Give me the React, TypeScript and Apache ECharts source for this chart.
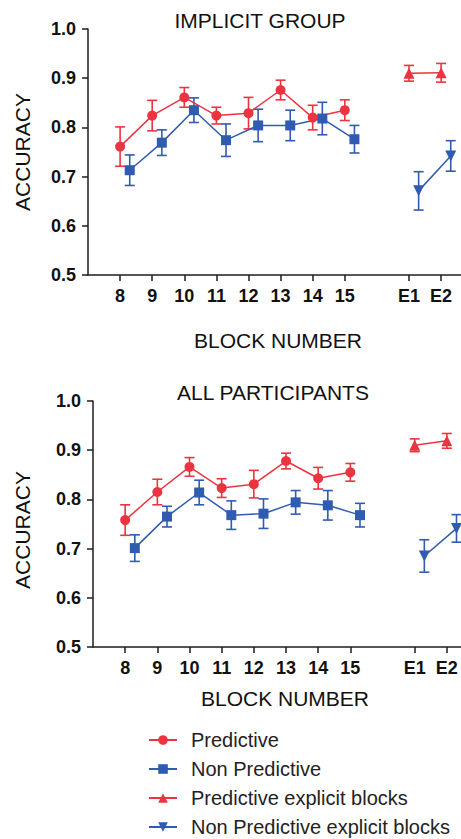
import React, { useEffect, useRef } from "react";
import * as echarts from "echarts";

// ---- data ----
const blocks = [8, 9, 10, 11, 12, 13, 14, 15];
const explicitLabels = ["E1", "E2"];
const explicitPos = [17, 18];
const yTicks = [0.5, 0.6, 0.7, 0.8, 0.9, 1.0];

// Implicit group
const impPred = [0.761, 0.824, 0.861, 0.824, 0.829, 0.876, 0.820, 0.835];
const impPredErr = [0.040, 0.031, 0.020, 0.017, 0.032, 0.020, 0.025, 0.021];
const impNon = [0.713, 0.769, 0.835, 0.774, 0.804, 0.804, 0.818, 0.776];
const impNonErr = [0.031, 0.026, 0.025, 0.033, 0.033, 0.031, 0.033, 0.028];
const impPredExp = [0.910, 0.911];
const impPredExpErr = [0.016, 0.019];
const impNonExp = [0.671, 0.742];
const impNonExpErr = [0.039, 0.031];

// All participants
const allPred = [0.758, 0.815, 0.866, 0.823, 0.831, 0.878, 0.843, 0.855];
const allPredErr = [0.031, 0.026, 0.019, 0.019, 0.028, 0.016, 0.022, 0.018];
const allNon = [0.701, 0.765, 0.814, 0.768, 0.771, 0.794, 0.788, 0.768];
const allNonErr = [0.027, 0.021, 0.025, 0.029, 0.030, 0.024, 0.030, 0.024];
const allPredExp = [0.910, 0.919];
const allPredExpErr = [0.013, 0.015];
const allNonExp = [0.685, 0.741];
const allNonExpErr = [0.033, 0.028];

const RED = "#ec3440";
const BLUE = "#2f5bb0";
const AXIS = "#1e1e1e";
const FONT = "Liberation Sans, Arial, sans-serif";
const OFFSET = 0.3;
const DOWN_TRI = "path://M0,0L10,0L5,9Z";

function pts(xs: number[], ys: number[], off: number) {
  return xs.map((x, i) => [x + off, ys[i]]);
}
function errs(xs: number[], ys: number[], es: number[], off: number) {
  return xs.map((x, i) => [x + off, ys[i] - es[i], ys[i] + es[i]]);
}

function errorSeries(idx: number, data: number[][], color: string) {
  return {
    type: "custom",
    name: "err",
    xAxisIndex: idx,
    yAxisIndex: idx,
    z: 1,
    clip: false,
    encode: { x: 0, y: [1, 2] },
    data,
    renderItem: (_p: any, api: any) => {
      const x = api.value(0);
      const lo = api.coord([x, api.value(1)]);
      const hi = api.coord([x, api.value(2)]);
      const w = 5;
      const style = { stroke: color, lineWidth: 1.6 };
      return {
        type: "group",
        children: [
          { type: "line", shape: { x1: lo[0], y1: lo[1], x2: hi[0], y2: hi[1] }, style },
          { type: "line", shape: { x1: hi[0] - w, y1: hi[1], x2: hi[0] + w, y2: hi[1] }, style },
          { type: "line", shape: { x1: lo[0] - w, y1: lo[1], x2: lo[0] + w, y2: lo[1] }, style },
        ],
      };
    },
  };
}

function lineSeries(idx: number, name: string, data: number[][], color: string, symbol: string, size: number) {
  return {
    type: "line",
    name,
    xAxisIndex: idx,
    yAxisIndex: idx,
    z: 3,
    data,
    symbol,
    symbolSize: size,
    showAllSymbol: true,
    lineStyle: { color, width: 1.5 },
    itemStyle: { color },
    clip: false,
  };
}

function panelSeries(
  idx: number,
  pred: number[], predErr: number[], non: number[], nonErr: number[],
  predExp: number[], predExpErr: number[], nonExp: number[], nonExpErr: number[]
) {
  return [
    errorSeries(idx, errs(blocks, pred, predErr, 0), RED),
    errorSeries(idx, errs(blocks, non, nonErr, OFFSET), BLUE),
    errorSeries(idx, errs(explicitPos, predExp, predExpErr, 0), RED),
    errorSeries(idx, errs(explicitPos, nonExp, nonExpErr, OFFSET), BLUE),
    lineSeries(idx, "Predictive", pts(blocks, pred, 0), RED, "circle", 10),
    lineSeries(idx, "Non Predictive", pts(blocks, non, OFFSET), BLUE, "rect", 10),
    lineSeries(idx, "Predictive explicit blocks", pts(explicitPos, predExp, 0), RED, "triangle", 11),
    lineSeries(idx, "Non Predictive explicit blocks", pts(explicitPos, nonExp, OFFSET), BLUE, DOWN_TRI, 11),
  ];
}

function xAxis(idx: number, max: number) {
  return {
    type: "value",
    gridIndex: idx,
    min: 7,
    max,
    interval: 1,
    splitLine: { show: false },
    axisLine: { show: true, onZero: false, lineStyle: { color: AXIS, width: 1.5 } },
    axisTick: { show: true, length: 6, lineStyle: { color: AXIS, width: 1.5 }, customValues: [...blocks, ...explicitPos] },
    axisLabel: {
      customValues: [...blocks, ...explicitPos],
      margin: 12,
      color: "#111",
      fontFamily: FONT,
      fontWeight: "bold",
      fontSize: 18,
      formatter: (v: number) => {
        const k = explicitPos.indexOf(v);
        return k >= 0 ? explicitLabels[k] : String(v);
      },
    },
  };
}

function yAxis(idx: number) {
  return {
    type: "value",
    gridIndex: idx,
    min: yTicks[0],
    max: yTicks[yTicks.length - 1],
    interval: 0.1,
    splitLine: { show: false },
    axisLine: { show: true, lineStyle: { color: AXIS, width: 1.5 } },
    axisTick: { show: true, length: 6, lineStyle: { color: AXIS, width: 1.5 } },
    axisLabel: {
      margin: 12,
      color: "#111",
      fontFamily: FONT,
      fontWeight: "bold",
      fontSize: 18,
      formatter: (v: number) => v.toFixed(1),
    },
  };
}

function label(text: string, x: number, y: number, rotate = 0) {
  return {
    type: "text",
    x,
    y,
    rotation: rotate,
    style: {
      text,
      fill: "#111",
      font: `21px ${FONT}`,
      textAlign: "center",
      textVerticalAlign: "middle",
    },
  };
}

export default function App() {
  const ref = useRef<HTMLDivElement>(null);
  useEffect(() => {
    if (!ref.current) return;
    const chart = echarts.init(ref.current, undefined, { renderer: "svg" });
    chart.setOption({
      animation: false,
      backgroundColor: "#ffffff",
      grid: [
        { left: 88, top: 29, width: 373, height: 246 },
        { left: 93, top: 401, width: 368, height: 246 },
      ],
      xAxis: [xAxis(0, 18.62), xAxis(1, 18.44)],
      yAxis: [yAxis(0), yAxis(1)],
      legend: {
        orient: "vertical",
        left: 148,
        top: 730,
        padding: 0,
        itemWidth: 28,
        itemHeight: 12,
        itemGap: 9,
        data: ["Predictive", "Non Predictive", "Predictive explicit blocks", "Non Predictive explicit blocks"],
        textStyle: { fontFamily: FONT, fontSize: 20, color: "#222", lineHeight: 20, padding: [0, 0, 0, 9] },
      },
      graphic: [
        label("IMPLICIT GROUP", 260, 20),
        label("BLOCK NUMBER", 278, 340),
        label("ACCURACY", 22, 152, Math.PI / 2),
        label("ALL PARTICIPANTS", 273, 392),
        label("BLOCK NUMBER", 285, 698),
        label("ACCURACY", 22, 530, Math.PI / 2),
      ],
      series: [
        ...panelSeries(0, impPred, impPredErr, impNon, impNonErr, impPredExp, impPredExpErr, impNonExp, impNonExpErr),
        ...panelSeries(1, allPred, allPredErr, allNon, allNonErr, allPredExp, allPredExpErr, allNonExp, allNonExpErr),
      ],
    });
    return () => chart.dispose();
  }, []);
  return (
    <div
      ref={ref}
      style={{ width: 461, height: 839, position: "absolute", left: 0, top: 0 }}
    />
  );
}
